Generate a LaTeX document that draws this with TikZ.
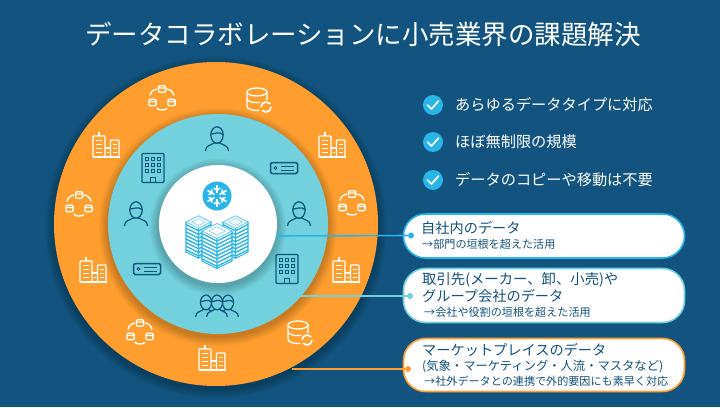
\documentclass[tikz,border=0pt]{standalone}
\usepackage{fontspec}
\setmainfont{Noto Sans CJK JP}
\definecolor{bgblue}{HTML}{12547F}
\definecolor{ringorange}{HTML}{FF9E2F}
\definecolor{ringteal}{HTML}{72D1DC}
\definecolor{skyblue}{HTML}{29B5E8}
\definecolor{darkicon}{HTML}{11567F}
\definecolor{boxtext}{HTML}{14527B}
\newcommand{\fsize}[1]{\fontsize{#1}{#1}\selectfont}
\tikzset{
	whiteicon/.style={draw=white, line width=1.3pt},
	darkline/.style={draw=darkicon, line width=1.25pt},
	txt/.style={anchor=west, inner sep=0pt},
	infobox/.style={draw=#1, line width=1.6pt, fill=white, rounded corners=22pt, minimum width=281pt, inner sep=0pt},
	dotmark/.style={circle, fill=#1, inner sep=0pt, minimum size=6pt},
	checkmark/.style={circle, fill=skyblue, inner sep=0pt, minimum size=20pt},
	person/.pic={
		\draw[darkline, fill=ringteal] (-11.5,12) .. controls (-11.5,6) and (-6,6.5) .. (-3,4) -- (3,4) .. controls (6,6.5) and (11.5,6) .. (11.5,12);
		\draw[darkline, fill=ringteal] (0,-4) ellipse (6.2 and 8.2);
		\draw[darkline] (-6,-5) .. controls (-2,-5) and (2,-8) .. (6,-4.5);
	},
	building/.pic={
		\draw[darkline, rounded corners=1pt] (-11,14.5) -- (-11,-14.5) -- (11,-14.5) -- (11,14.5) -- cycle;
		\foreach \x in {-6,0,6} \foreach \y in {-9,-3,3}
			\draw[darkicon, line width=.9pt] (\x-1.8,\y-1.8) rectangle (\x+1.8,\y+1.8);
		\draw[darkicon, line width=.9pt] (-2.5,14.5) -- (-2.5,9) -- (2.5,9) -- (2.5,14.5);
	},
	serverbox/.pic={
		\draw[darkline, line width=1.5pt, rounded corners=1.5pt] (-13.5,-5.5) rectangle (13.5,5.5);
		\draw[darkicon, line width=.9pt] (-8.5,0) circle (1.6);
		\draw[darkicon, line width=1pt] (-3.5,-2) -- (9.5,-2) (-3.5,2) -- (9.5,2);
	},
	city/.pic={
		\draw[whiteicon, line join=round] (-13.5,12) -- (13.5,12);
		\draw[whiteicon, rounded corners=.8pt] (-13,12) -- (-13,-9) -- (-1,-9) -- (-1,12);
		\draw[whiteicon] (-7,-9) -- (-7,-13);
		\draw[whiteicon] (-1,3) -- (4.5,3) -- (4.5,12);
		\draw[whiteicon, rounded corners=.8pt] (4.5,12) -- (4.5,-5) -- (13,-5) -- (13,12);
		\foreach \y in {-5,-1,3,7} \draw[white, line width=1pt] (-10,\y) -- (-4,\y);
		\foreach \y in {-1,3,7} \draw[white, line width=1pt] (7,\y) -- (11,\y);
		\draw[white, line width=1pt] (0.8,7) -- (3,7);
	},
	network/.pic={
		\foreach \x/\y in {0/-9,-9.5/4.5,9.5/4.5}
			\draw[whiteicon, shift={(\x,\y)}, rounded corners=1pt] (-3.6,-3.2) rectangle (3.6,3.2) (-3.6,-1) -- (3.6,-1);
		\draw[whiteicon] (-5,-9) .. controls (-8.5,-8.5) and (-11.5,-6) .. (-12,-2.5);
		\draw[whiteicon] (5,-9) .. controls (8.5,-8.5) and (11.5,-6) .. (12,-2.5);
		\draw[whiteicon] (-5,10.5) .. controls (-3,12.5) and (3,12.5) .. (5,10.5);
		\fill[white] (-4.5,10.5) circle (1.2);
	},
	dbsync/.pic={
		\draw[whiteicon, fill=ringorange] (-10,-7) -- (-10,7) .. controls (-10,13) and (10,13) .. (10,7) -- (10,-7);
		\draw[whiteicon] (0,-7) ellipse (10 and 4);
		\draw[whiteicon] (-10,-.5) .. controls (-10,5) and (10,5) .. (10,-.5);
		\fill[ringorange] (9,8) circle (7.5);
		\draw[white, line width=1.7pt, dash pattern=on 12pt off 3.5pt] (9,8) circle (5);
	},
	tower/.pic={
		\fill[white] (-#1,0) -- (0,-#1*.5) -- (#1,0) -- (#1,30) -- (0,30+#1*.5) -- (-#1,30) -- cycle;
		\draw[skyblue!75, line width=.8pt] (-#1,0) -- (0,-#1*.5) -- (#1,0) -- (0,#1*.5) -- cycle;
		\draw[skyblue!60, line width=.6pt] (-#1*.55,0) -- (0,-#1*.28) -- (#1*.55,0) -- (0,#1*.28) -- cycle;
		\foreach \i in {1,...,8}
			\draw[skyblue, line width=1.35pt] (-#1,{3.6*\i-1}) -- (0,{3.6*\i-1+#1*.5}) -- (#1,{3.6*\i-1});
		\draw[skyblue, line width=1.1pt] (-#1,0) -- (-#1,30) -- (0,30+#1*.5) -- (#1,30) -- (#1,0) (0,#1*.5) -- (0,30+#1*.5);
	},
	flake/.pic={
		\foreach \a in {30,90,...,330} {
			\draw[white, line width=1.6pt] (\a:3) -- (\a:11);
			\draw[white, line width=1.4pt] (\a:5.5) -- ++(\a+50:4);
			\draw[white, line width=1.4pt] (\a:5.5) -- ++(\a-50:4);
		}
	}
}
\begin{document}
\begin{tikzpicture}[x=1pt,y=-1pt]

	\fill[bgblue] (0,0) rectangle (720,407);
	\useasboundingbox (0,0) rectangle (720,407);

	\node[white] (title) at (363,34) {\fsize{26.5}データコラボレーションに小売業界の課題解決};

	% rings
	\foreach \i in {1,...,7} \fill[black, opacity=.035] (216,227) circle ({162+\i*1.3});
	\fill[ringorange] (216,224) circle (162);
	\foreach \i in {1,...,7} \fill[black, opacity=.03] (218,227) circle ({110+\i*1.3});
	\fill[ringteal] (218,224) circle (110);
	\foreach \i in {1,...,7} \fill[black, opacity=.03] (218,227) circle ({59+\i*1.3});
	\fill[white] (218,224) circle (59);

	% connector start points
	\coordinate (startA) at (276,236);
	\coordinate (startB) at (300,296);
	\coordinate (startC) at (292,369);

	% outer ring
	\pic at (162,98) {network};
	\pic at (106,145) {city};
	\pic at (79,204) {network};
	\pic at (257,99) {dbsync};
	\pic at (332,145) {city};
	\pic at (352,203) {network};
	\pic at (93,270) {city};
	\pic at (140,332) {network};
	\pic at (212,358) {city};
	\pic at (346,270) {city};
	\pic at (298,332) {dbsync};

	% inner ring
	\pic at (153,168) {building};
	\pic at (136,214) {person};
	\pic at (217,139) {person};
	\pic at (284,168) {serverbox};
	\pic at (299,214) {person};
	\pic at (147,269) {serverbox};
	\pic at (287,269) {building};
	\pic[scale=.9] at (206,306) {person};
	\pic[scale=.9] at (228,306) {person};
	\pic[scale=.9] at (217,306) {person};

	% centre
	\node[circle, fill=skyblue, minimum size=29pt, inner sep=0pt] (flakedisc) at (217,196) {};
	\pic at (217,196) {flake};
	\pic at (198.5,222) {tower={12.5}};
	\pic at (235.5,222) {tower={12.5}};
	\pic at (217,231) {tower={15}};

	% connectors and boxes
	\node[infobox=skyblue, minimum height=44pt] (boxA) at (544,236) {};
	\node[infobox=ringteal, minimum height=54pt] (boxB) at (544,295.5) {};
	\node[infobox=ringorange, minimum height=53pt] (boxC) at (544,365) {};
	\node[dotmark=skyblue] (dotA) at (411,235.5) {};
	\node[dotmark=ringteal] (dotB) at (410,296) {};
	\node[dotmark=ringorange] (dotC) at (408,369) {};
	\draw[skyblue, line width=1.6pt] (startA) -- (dotA);
	\draw[ringteal, line width=1.6pt] (startB) -- (dotB);
	\draw[ringorange, line width=1.6pt] (startC) -- (dotC);

	\node[txt, text=boxtext] (textA) at (421,228) {\fsize{14.2}自社内のデータ};
	\node[txt, text=boxtext] (subA) at (422,244) {\fsize{11.1}→部門の垣根を超えた活用};
	\node[txt, text=boxtext] (textB1) at (422,280) {\fsize{14.35}取引先(メーカー、卸、小売)や};
	\node[txt, text=boxtext] (textB2) at (422,296) {\fsize{14.2}グループ会社のデータ};
	\node[txt, text=boxtext] (subB) at (424,312) {\fsize{11.1}→会社や役割の垣根を超えた活用};
	\node[txt, text=boxtext] (textC1) at (422,350) {\fsize{14.2}マーケットプレイスのデータ};
	\node[txt, text=boxtext] (textC2) at (422,367) {\fsize{12.3}(気象・マーケティング・人流・マスタなど)};
	\node[txt, text=boxtext] (subC) at (424,381) {\fsize{11.1}→社外データとの連携で外的要因にも素早く対応};

	% check list
	\foreach \n/\y/\t in {a/105/あらゆるデータタイプに対応,b/142/ほぼ無制限の規模,c/180/データのコピーや移動は不要} {
		\node[checkmark] (check\n) at (433,\y) {};
		\draw[white, line width=1.6pt, line cap=round, line join=round] (427.5,\y) -- (431.5,\y+4) -- (438.5,\y-4);
		\node[txt, white] (item\n) at (455,\y-.5) {\fsize{15.2}\t};
	}

\end{tikzpicture}
\end{document}
